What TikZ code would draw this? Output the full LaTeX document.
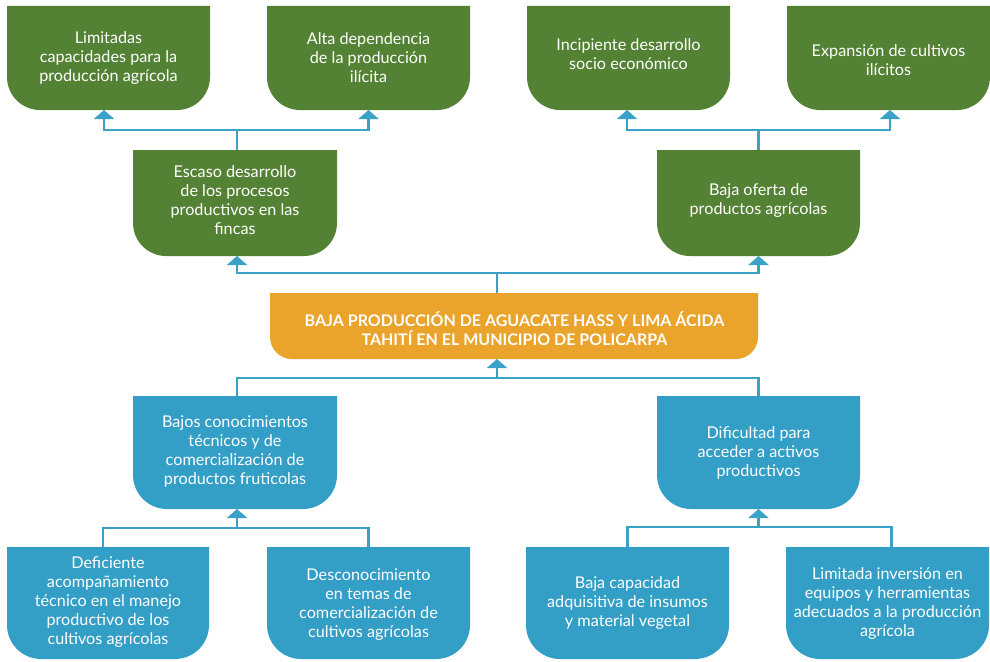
\documentclass[tikz,border=0pt]{standalone}
\usepackage{fontspec}
\setmainfont{Lato}
\usetikzlibrary{arrows.meta,calc}
\definecolor{cgreen}{HTML}{548235}
\definecolor{corange}{HTML}{EAA32B}
\definecolor{cblue}{HTML}{339EC6}
\definecolor{cline}{HTML}{3AA1C9}
\begin{document}
\begin{tikzpicture}[x=1pt,y=-1pt,
  shapebox/.style n args={4}{minimum width=#2pt, minimum height=#3pt, inner sep=0pt, outer sep=0pt,
    path picture={\fill[#1] (path picture bounding box.north west) -- (path picture bounding box.north east)
      -- ([yshift=#4pt]path picture bounding box.south east) arc[start angle=0,end angle=-90,radius=#4pt]
      -- ([xshift=#4pt]path picture bounding box.south west) arc[start angle=270,end angle=180,radius=#4pt] -- cycle;}},
  gbox/.style 2 args={shapebox={cgreen}{#1}{#2}{33}},
  bbox/.style 2 args={shapebox={cblue}{#1}{#2}{34}},
  txt/.style={align=center, text=white, inner sep=0pt, font=\fontsize{16.2}{19}\selectfont},
  ttl/.style={align=center, text=white, inner sep=0pt, font=\bfseries\fontsize{16}{19}\selectfont},
  conn/.style={draw=cline, line width=2.2pt},
  arr/.style={-{Triangle[width=20pt,length=9pt]}}
]
\useasboundingbox (0,0) rectangle (990,661);

% top row
\node[gbox={203}{104}] (lim) at (108.5,58) {};
\node[gbox={203}{104}] (alta) at (368.5,58) {};
\node[gbox={203}{104}] (inc) at (628.5,58) {};
\node[gbox={203}{104}] (exp) at (888.5,58) {};
\node[txt] (limt) at (108.5,58) {Limitadas\\capacidades para la\\producción agrícola};
\node[txt] (altat) at (368.5,58) {Alta dependencia\\de la producción\\ilícita};
\node[txt] (inct) at (628.5,54.5) {Incipiente desarrollo\\socio económico};
\node[txt] (expt) at (888.5,60.5) {Expansión de cultivos\\ilícitos};

% second row
\node[gbox={204}{106}] (esc) at (235,203) {};
\node[gbox={203}{106}] (baj) at (758.5,203) {};
\node[txt] (esct) at (235,200.5) {Escaso desarrollo\\de los procesos\\productivos en las\\fincas};
\node[txt] (bajt) at (758.5,200.5) {Baja oferta de\\productos agrícolas};

% central problem
\node[shapebox={corange}{488}{66}{22}] (org) at (514,326) {};
\node[ttl] (orgt) at (514.5,329) {BAJA PRODUCCIÓN DE AGUACATE HASS Y LIMA ÁCIDA\\TAHITÍ EN EL MUNICIPIO DE POLICARPA};

% causes
\node[bbox={204}{113}] (bc) at (235,452.5) {};
\node[bbox={203}{113}] (dif) at (758.5,452.5) {};
\node[txt] (bct) at (235,451.5) {Bajos conocimientos\\técnicos y de\\comercialización de\\productos fruticolas};
\node[txt] (dift) at (758.5,453) {Dificultad para\\acceder a activos\\productivos};

% bottom row
\node[bbox={202}{112}] (def) at (108,603) {};
\node[bbox={203}{112}] (desc) at (368.5,603) {};
\node[bbox={203}{112}] (bcap) at (627.5,603) {};
\node[bbox={203}{112}] (lim2) at (887.5,603) {};
\node[txt] (deft) at (108,602) {Deficiente\\acompañamiento\\técnico en el manejo\\productivo de los\\cultivos agrícolas};
\node[txt] (desct) at (368.5,604.5) {Desconocimiento\\en temas de\\comercialización de\\cultivos agrícolas};
\node[txt] (bcapt) at (627.5,603) {Baja capacidad\\adquisitiva de insumos\\y material vegetal};
\node[txt] (lim2t) at (887.5,603.5) {Limitada inversión en\\equipos y herramientas\\adecuados a la producción\\agrícola};

% junctions
\coordinate (jt1) at (237,130);
\coordinate (jt2) at (758.5,130);
\coordinate (jm1) at (497,273);
\coordinate (jm2) at (497,378);
\coordinate (jb1) at (237,528);
\coordinate (jb2) at (758.5,527);

% connectors top-left
\draw[conn] (jt1 |- esc.north) -- (jt1);
\draw[conn,arr] (jt1) -| ([xshift=-4.5pt]lim.south);
\draw[conn,arr] (jt1) -| (alta.south);
% top-right
\draw[conn] (jt2 |- baj.north) -- (jt2);
\draw[conn,arr] (jt2) -| ([xshift=-1.5pt]inc.south);
\draw[conn,arr] (jt2) -| ([xshift=1.5pt]exp.south);
% middle upper
\draw[conn] (jm1 |- org.north) -- (jm1);
\draw[conn,arr] (jm1) -| ([xshift=2pt]esc.south);
\draw[conn,arr] (jm1) -| (baj.south);
% middle lower
\draw[conn,arr] (jm2) -- (jm2 |- org.south);
\draw[conn] ([xshift=2pt]bc.north) |- (jm2);
\draw[conn] (dif.north) |- (jm2);
% bottom-left
\draw[conn,arr] (jb1) -- (jb1 |- bc.south);
\draw[conn] ([xshift=-5pt]def.north) |- (jb1);
\draw[conn] (desc.north) |- (jb1);
% bottom-right
\draw[conn,arr] (jb2) -- (jb2 |- dif.south);
\draw[conn] (bcap.north) |- (jb2);
\draw[conn] ([xshift=4pt]lim2.north) |- (jb2);
\end{tikzpicture}
\end{document}
